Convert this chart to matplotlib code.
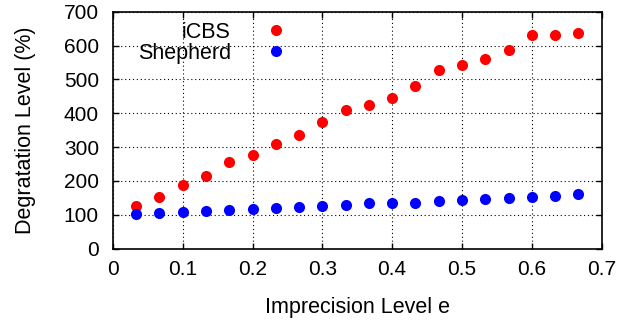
import matplotlib
matplotlib.use("Agg")
import matplotlib.pyplot as plt

plt.rcParams["font.family"] = ["Liberation Sans", "DejaVu Sans"]

e_levels = [0.0333, 0.0667, 0.1, 0.1333, 0.1667, 0.2, 0.2333, 0.2667, 0.3, 0.3333,
            0.3667, 0.4, 0.4333, 0.4667, 0.5, 0.5333, 0.5667, 0.6, 0.6333, 0.6667]
icbs = [127, 154, 188, 215, 256, 278, 309, 335, 374, 409,
        426, 446, 482, 528, 544, 560, 588, 632, 632, 638]
shepherd = [102, 105, 108, 112, 115, 116, 120, 123, 126, 130,
            134, 136, 136, 140, 143, 146, 151, 154, 157, 161]
x_ticks = [0, 0.1, 0.2, 0.3, 0.4, 0.5, 0.6, 0.7]
y_ticks = [0, 100, 200, 300, 400, 500, 600, 700]

fig = plt.figure(figsize=(6.34, 3.2), dpi=100)
ax = fig.add_axes([0.178, 0.223, 0.771, 0.74])

ax.plot(e_levels, icbs, "o", color="#ff0000", ms=8, mec="none", label="iCBS")
ax.plot(e_levels, shepherd, "o", color="#0000ff", ms=8, mec="none", label="Shepherd")

ax.set_xlim(0, 0.7)
ax.set_ylim(0, 700)
ax.set_xticks(x_ticks)
ax.set_xticklabels([f"{t:g}" for t in x_ticks])
ax.set_yticks(y_ticks)
ax.tick_params(direction="in", length=4, width=1, labelsize=15,
               top=True, right=True)
ax.tick_params(axis="x", pad=8)
ax.tick_params(axis="y", pad=10)
ax.grid(True, color="black", linestyle=(0, (1, 2.5)), linewidth=0.8)
for s in ax.spines.values():
    s.set_linewidth(1.2)

ax.set_xlabel("Imprecision Level e", fontsize=15.5)
ax.set_ylabel("Degratation Level (%)", fontsize=15.5)
ax.xaxis.set_label_coords(0.5, -0.205)
ax.yaxis.set_label_coords(-0.157, 0.5)

leg = ax.legend(loc="upper right", bbox_to_anchor=(0.356, 0.958), frameon=False,
                markerfirst=False, fontsize=15.5, labelspacing=0.0,
                handlelength=1.0, handletextpad=1.6, borderaxespad=0.0,
                borderpad=0.0)
leg._legend_box.align = "right"

fig.savefig("out.png", dpi=100)
